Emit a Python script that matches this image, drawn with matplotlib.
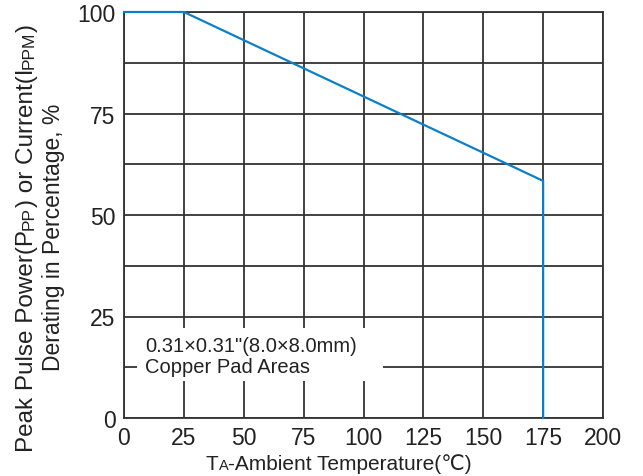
import numpy as np
import matplotlib
matplotlib.use('Agg')
import matplotlib.pyplot as plt
from matplotlib.patches import Rectangle
from matplotlib.transforms import Bbox

# derating curve (Ta in degC, % of rated)
temp = [0, 25, 175, 175]
derate = [100, 100, 58.4, 0]

x_ticks = [0, 25, 50, 75, 100, 125, 150, 175, 200]
y_ticks = [0, 25, 50, 75, 100]
y_minor = [12.5, 37.5, 62.5, 87.5]

note_lines = ['0.31\u00d70.31"(8.0\u00d78.0mm)', 'Copper Pad Areas']

plt.rcParams['font.family'] = ['Liberation Sans', 'DejaVu Sans']

grid_col = '#333333'
txt_col = '#222222'
DESC = 0.212  # descent of the font, fraction of em

fig = plt.figure(figsize=(6.43, 4.77), dpi=100)
ax = fig.add_axes([124/643, 1 - 419/477, 479/643, 406/477])
ax.set_xlim(0, 200)
ax.set_ylim(0, 100)
ax.set_xticks(x_ticks)
ax.set_yticks(y_ticks)
ax.set_yticks(y_minor, minor=True)
ax.set_axisbelow(True)
ax.grid(which='both', color=grid_col, lw=1.3)
ax.tick_params(which='both', length=0, labelsize=16.5, colors=txt_col)
ax.tick_params(axis='x', pad=6)
ax.tick_params(axis='y', pad=6)
for s in ax.spines.values():
    s.set_color(grid_col)
    s.set_linewidth(1.3)

# white box behind the note
ax.add_patch(Rectangle((5.4, 9.1), 102.7, 13.1, facecolor='white',
                       edgecolor='none', zorder=1))
ax.text(8.8, 16.5, note_lines[0], fontsize=14.5, color=txt_col, va='baseline', zorder=4)
ax.text(8.8, 11.3, note_lines[1], fontsize=14.5, color=txt_col, va='baseline', zorder=4)

ax.plot(temp, derate, color='#0b80c9', lw=1.6, zorder=3, clip_on=False)


def chain(pieces, rot):
    # pieces of text with different sizes, one after another on one baseline
    first = fig.text(0, 0, pieces[0][0], fontsize=pieces[0][1], rotation=rot,
                     color=txt_col, ha='left', va='bottom')
    arts = [first]
    prev = first
    prev_fs = pieces[0][1]
    for s, fs in pieces[1:]:
        off = DESC * (prev_fs - fs)
        if rot == 0:
            a = ax.annotate(s, xy=(1, 0), xycoords=prev, xytext=(0, off),
                            textcoords='offset points', fontsize=fs, color=txt_col,
                            ha='left', va='bottom', annotation_clip=False)
        else:
            a = ax.annotate(s, xy=(1, 1), xycoords=prev, xytext=(-off, 0),
                            textcoords='offset points', fontsize=fs, color=txt_col,
                            rotation=rot, ha='right', va='bottom', annotation_clip=False)
        arts.append(a)
        prev = a
        prev_fs = fs
    return arts


xl = chain([('T', 15), ('A', 10.5), ('-Ambient Temperature(\u2103)', 15)], 0)
yl1 = chain([('Peak Pulse Power(P', 17.5), ('PP', 12.5), (') or Current(I', 17.5),
             ('PPM', 12.5), (')', 17.5)], 90)
yl2 = chain([('Derating in Percentage, %', 16.5)], 90)

fig.canvas.draw()
r = fig.canvas.get_renderer()


def place(arts, cx, cy, rot):
    bb = Bbox.union([a.get_window_extent(r) for a in arts])
    x0, y0 = arts[0].get_position()
    if rot == 0:
        dx = cx - (bb.x0 + bb.x1) / 2
        dy = cy - bb.y0
    else:
        dx = cx - bb.x1
        dy = cy - (bb.y0 + bb.y1) / 2
    arts[0].set_position((x0 + dx / fig.bbox.width, y0 + dy / fig.bbox.height))


# baselines, plus the font descent
place(xl, 339, 477 - 470 - DESC * 15 * 100 / 72, 0)
place(yl1, 33 + DESC * 17.5 * 100 / 72, 477 - 238, 90)
place(yl2, 60 + DESC * 16.5 * 100 / 72, 477 - 237, 90)

fig.savefig('out.png', dpi=100)
